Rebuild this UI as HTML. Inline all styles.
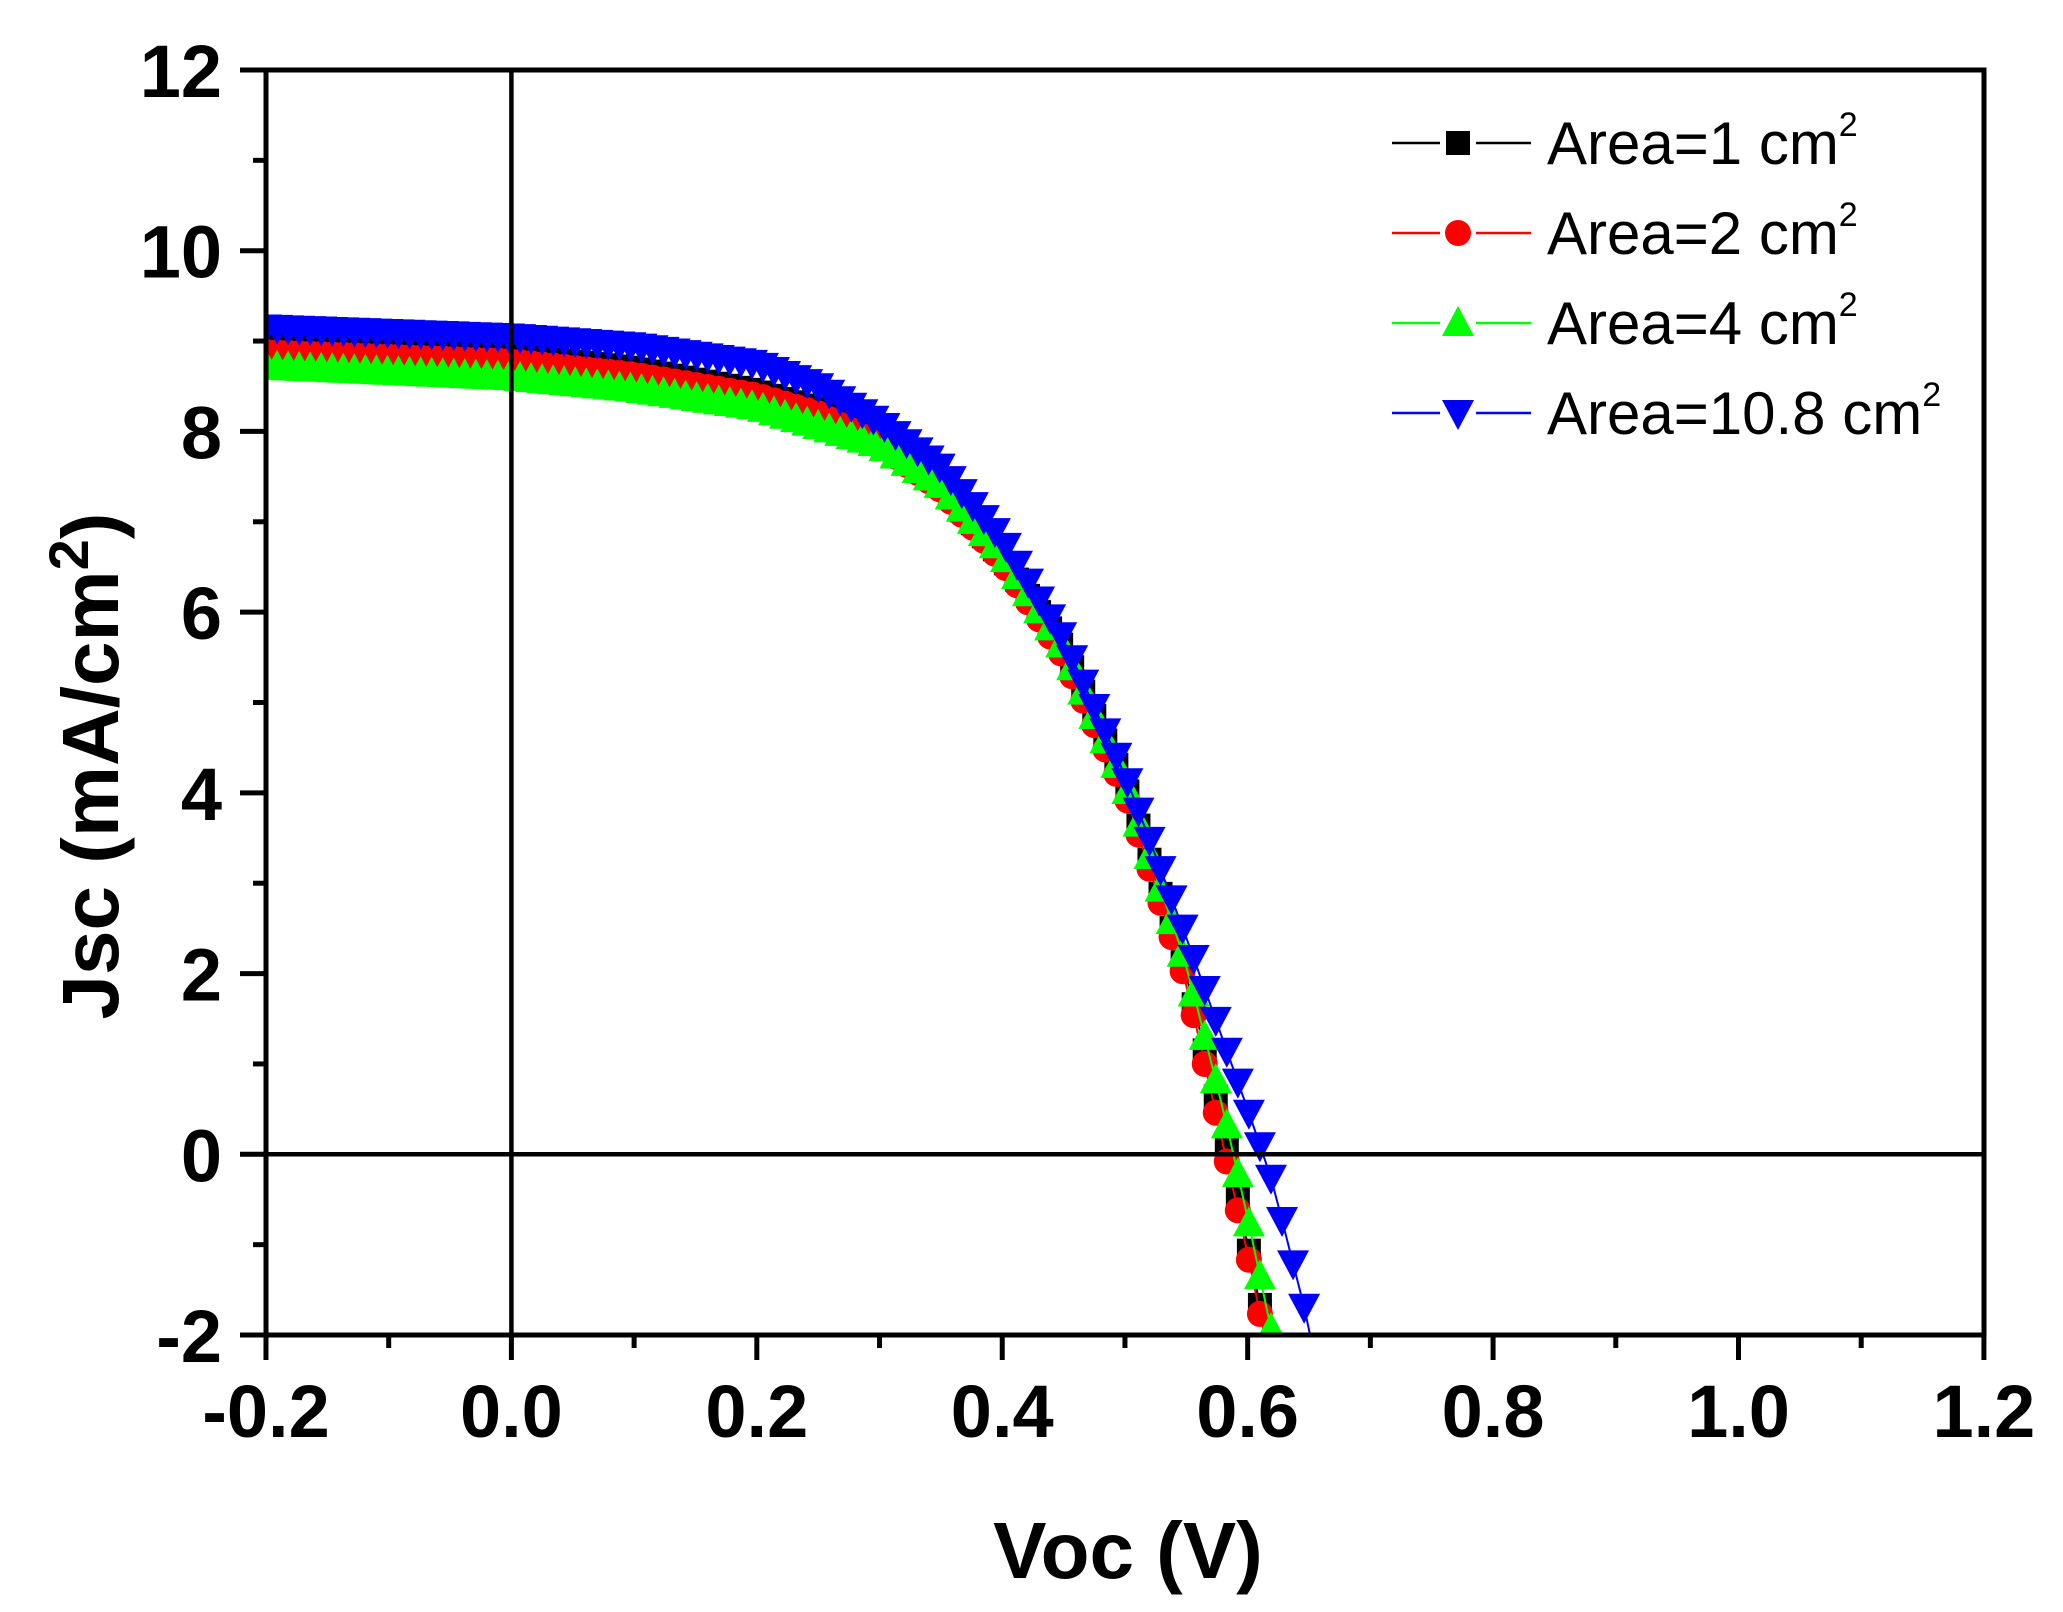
<!DOCTYPE html>
<html><head><meta charset="utf-8"><style>
html,body{margin:0;padding:0;background:#fff;}
svg{display:block;}
text{font-family:"Liberation Sans",Arial,sans-serif;}
</style></head><body>
<svg id="s" width="2063" height="1612" viewBox="0 0 2063 1612" xmlns="http://www.w3.org/2000/svg">
<defs><clipPath id="c"><rect x="266" y="70" width="1718" height="1265"/></clipPath></defs>
<g id="data" clip-path="url(#c)"></g>
<line x1="511.4" y1="70" x2="511.4" y2="1335" stroke="#000" stroke-width="4.5"/>
<line x1="266" y1="1154.3" x2="1984" y2="1154.3" stroke="#000" stroke-width="4.5"/>
<rect x="266" y="70" width="1718" height="1265" fill="none" stroke="#000" stroke-width="5"/>
<g id="ticks" stroke="#000" stroke-width="5"></g>
<g id="labels" font-weight="bold" font-size="74" fill="#000"></g>
<text x="1128" y="1578" font-size="80" font-weight="bold" text-anchor="middle">Voc (V)</text>
<text transform="translate(118,766) rotate(-90)" font-size="80" font-weight="bold" text-anchor="middle">Jsc (mA/cm<tspan dy="-30" font-size="56">2</tspan><tspan dy="30">)</tspan></text>
<g id="legend" font-size="60"></g>
</svg>
<script>
const NS="http://www.w3.org/2000/svg";
function el(p,t,a,txt){const e=document.createElementNS(NS,t);for(const k in a)e.setAttribute(k,a[k]);if(txt!==undefined)e.textContent=txt;p.appendChild(e);return e;}
const X=v=>511.4+v*1227.1, Y=j=>1154.3-j*90.36;
const tk=document.getElementById('ticks'), lb=document.getElementById('labels');
for(let i=0;i<=14;i++){const v=-0.2+i*0.1,x=X(v),maj=i%2==0;
 el(tk,'line',{x1:x,y1:1335,x2:x,y2:maj?1360:1348});
 if(maj) el(lb,'text',{x:x,y:1437,'text-anchor':'middle'},v.toFixed(1));}
for(let i=0;i<=14;i++){const j=-2+i,y=Y(j),maj=i%2==0;
 el(tk,'line',{x1:266,y1:y,x2:maj?240:253,y2:y});
 if(maj) el(lb,'text',{x:222,y:y+27,'text-anchor':'end'},String(j));}
const series=[
{c:'#000',m:'sq',p:[[-0.2,8.95],[0,8.85],[0.1,8.7],[0.2,8.45],[0.25,8.25],[0.3,7.9],[0.35,7.4],[0.4,6.6],[0.45,5.6],[0.5,4.1],[0.55,2.0],[0.58,0.3],[0.6,-1.0],[0.615,-2.0],[0.63,-3]]},
{c:'#f00',m:'ci',p:[[-0.2,8.88],[0,8.78],[0.1,8.63],[0.2,8.4],[0.25,8.2],[0.3,7.85],[0.35,7.35],[0.4,6.55],[0.45,5.5],[0.5,4.0],[0.55,1.9],[0.575,0.4],[0.6,-1.1],[0.615,-2.1],[0.63,-3]]},
{c:'#0f0',m:'up',p:[[-0.2,8.72],[0,8.6],[0.1,8.47],[0.2,8.27],[0.3,7.85],[0.35,7.4],[0.4,6.65],[0.45,5.6],[0.5,4.1],[0.55,2.1],[0.58,0.5],[0.6,-0.7],[0.62,-2.0],[0.635,-3]]},
{c:'#00f',m:'dn',p:[[-0.2,9.15],[0,9.05],[0.1,8.95],[0.2,8.75],[0.25,8.5],[0.3,8.1],[0.35,7.6],[0.4,6.8],[0.45,5.7],[0.5,4.2],[0.55,2.4],[0.6,0.5],[0.62,-0.3],[0.65,-1.9],[0.665,-3]]}];
function interp(p,v){for(let i=0;i<p.length-1;i++){if(v<=p[i+1][0]){const t=(v-p[i][0])/(p[i+1][0]-p[i][0]);return p[i][1]+t*(p[i+1][1]-p[i][1]);}}return p[p.length-1][1];}
function marker(g,m,x,y,c){
 if(m=='sq')el(g,'rect',{x:x-12,y:y-12,width:24,height:24,fill:c});
 else if(m=='ci')el(g,'circle',{cx:x,cy:y,r:13,fill:c});
 else if(m=='up')el(g,'polygon',{points:`${x},${y-17} ${x+16},${y+13} ${x-16},${y+13}`,fill:c});
 else el(g,'polygon',{points:`${x},${y+17} ${x+16},${y-13} ${x-16},${y-13}`,fill:c});}
const d=document.getElementById('data');
series.forEach(s=>{let pts=[];const end=s.p[s.p.length-1][0];
 for(let v=-0.2;v<=end+1e-9;v+=0.009){pts.push([X(v),Y(interp(s.p,v))]);}
 el(d,'polyline',{points:pts.map(q=>q.join(',')).join(' '),fill:'none',stroke:s.c,'stroke-width':2});
 pts.forEach(q=>marker(d,s.m,q[0],q[1],s.c));});
const lg=document.getElementById('legend');
const names=['1','2','4','10.8'];
series.forEach((s,i)=>{const y=143+i*90;
 el(lg,'line',{x1:1392,y1:y,x2:1440,y2:y,stroke:s.c,'stroke-width':2.5});
 el(lg,'line',{x1:1476,y1:y,x2:1531,y2:y,stroke:s.c,'stroke-width':2.5});
 marker(lg,s.m,1458,y,s.c);
 const t=el(lg,'text',{x:1547,y:y+21});
 t.appendChild(document.createTextNode('Area='+names[i]+' cm'));
 el(t,'tspan',{dy:-28,'font-size':34},'2');});
</script>
</body></html>
